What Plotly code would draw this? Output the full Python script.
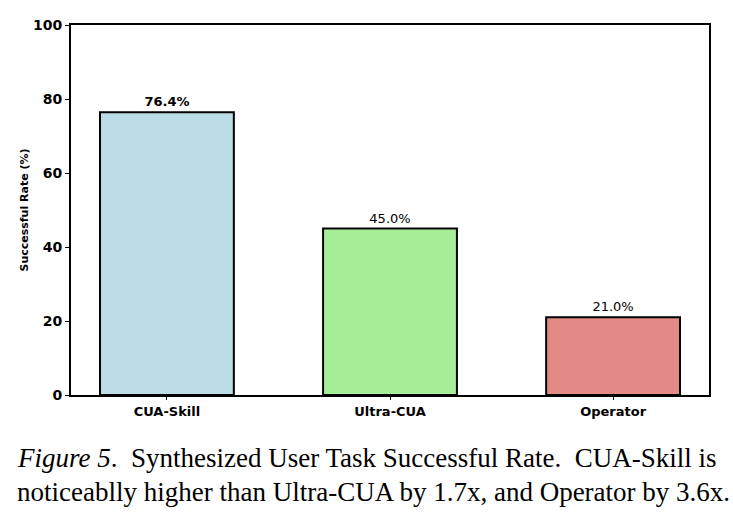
import plotly.graph_objects as go

categories = ["CUA-Skill", "Ultra-CUA", "Operator"]
values = [76.4, 45.0, 21.0]
value_labels = ["<b>76.4%</b>", "45.0%", "21.0%"]
colors = ["#BCDDE6", "#A6EF98", "#E38A84"]
y_ticks = [0, 20, 40, 60, 80, 100]
caption_lines = [
    "<i>Figure 5</i>.  Synthesized User Task Successful Rate.  CUA-Skill is",
    "noticeablly higher than Ultra-CUA by 1.7x, and Operator by 3.6x.",
]

fig = go.Figure()
fig.add_trace(go.Bar(
    x=[0, 1, 2], y=values, width=0.6,
    marker=dict(color=colors, line=dict(color="black", width=2)),
    text=value_labels, textposition="outside", cliponaxis=False,
    textfont=dict(family="DejaVu Sans", size=13, color="black"),
))

fig.update_layout(
    width=733, height=516,
    margin=dict(l=71, r=24, t=25, b=121),
    plot_bgcolor="white", paper_bgcolor="white",
    showlegend=False,
    font=dict(family="DejaVu Sans", color="black"),
    xaxis=dict(
        range=[-0.43, 2.43], tickmode="array", tickvals=[0, 1, 2],
        ticktext=[f"<b>{c}</b>" for c in categories],
        showline=True, linecolor="black", linewidth=2, mirror=True,
        ticks="outside", ticklen=3, tickwidth=1, tickcolor="black",
        tickfont=dict(size=13), showgrid=False, zeroline=False,
    ),
    yaxis=dict(
        range=[0, 100], tickmode="array", tickvals=y_ticks,
        ticktext=[f"<b>{t}</b>" for t in y_ticks],
        showline=True, linecolor="black", linewidth=2, mirror=True,
        ticks="outside", ticklen=4, tickwidth=1, tickcolor="black",
        tickfont=dict(size=14), showgrid=False, zeroline=False,
        title=dict(text="<b>Successful Rate (%)</b>", font=dict(size=11), standoff=2),
    ),
)

caption_y = [458, 492]
for line, yc in zip(caption_lines, caption_y):
    fig.add_annotation(
        xref="paper", yref="paper", x=(15 - 71) / 638, y=(516 - 121 - yc) / 370,
        xanchor="left", yanchor="middle", align="left", showarrow=False,
        text=line,
        font=dict(family="Liberation Serif", size=27, color="black"),
    )

fig.write_html("out.html")
